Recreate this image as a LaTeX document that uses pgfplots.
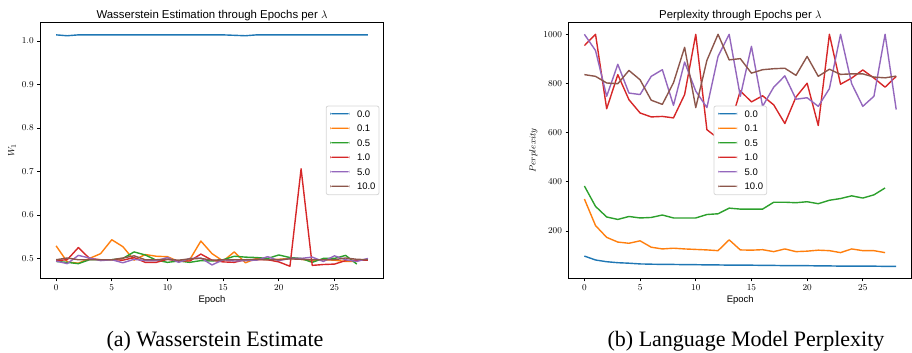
\documentclass[border=0pt]{standalone}
\usepackage[no-math]{fontspec}
\newfontfamily\sans{Liberation Sans}
\newfontfamily\capfont{Liberation Serif}
\usepackage{pgfplots}
\pgfplotsset{compat=1.18}
\definecolor{mplblue}{HTML}{1F77B4}
\definecolor{mplorange}{HTML}{FF7F0E}
\definecolor{mplgreen}{HTML}{2CA02C}
\definecolor{mplred}{HTML}{D62728}
\definecolor{mplpurple}{HTML}{9467BD}
\definecolor{mplbrown}{HTML}{8C564B}
\definecolor{legframe}{HTML}{D6D6D6}
\pgfplotsset{mpl/.style={
  scale only axis, width=343pt, height=255.3pt, anchor=south west,
  xmin=-1.4, xmax=29.4,
  xtick={0,5,10,15,20,25},
  tick align=outside, tick pos=left, major tick length=3.3pt,
  every tick/.style={black, line width=0.76pt},
  axis line style={line width=0.76pt},
  tick label style={font=\fontsize{9.5}{11}\selectfont},
  label style={font=\sans\fontsize{9.5}{11}\selectfont},
  title style={font=\sans\fontsize{11.4}{13}\selectfont, at={(axis description cs:0.5,1)}, anchor=base, yshift=-1.5pt},
  xlabel style={at={(axis description cs:0.5,0)}, anchor=base, yshift=-24pt},
  legend cell align=left,
  legend image code/.code={\path (0pt,0pt); \fill[##1, draw=none] (0pt,2.8pt) rectangle (19pt,4.2pt);},
  legend style={fill=white, draw=legframe, rounded corners=2pt, line width=0.76pt, font=\sans\fontsize{9.5}{11}\selectfont, inner xsep=3.5pt, inner ysep=4.2pt, row sep=6.8pt, nodes={inner sep=0pt, text height=7pt, text depth=0pt, anchor=base west}, column sep=7.6pt},
}}
\tikzset{p/.style={color=#1, line width=1.4pt, line join=round, mark=none}}
\begin{document}
\begin{tikzpicture}[x=1pt,y=1pt]
\useasboundingbox (0,0) rectangle (912,353);
\begin{axis}[mpl, at={(40.5pt,75pt)},
  ymin=0.455, ymax=1.042,
  ytick={0.5,0.6,0.7,0.8,0.9,1.0},
  yticklabel style={/pgf/number format/.cd, fixed, fixed zerofill, precision=1},
  title={Wasserstein Estimation through Epochs per $\lambda$},
  xlabel={Epoch}, ylabel={$W_1$},
  ylabel style={at={(axis description cs:-0.083,0.5)}, anchor=center},
  legend style={at={(0.988,0.5)}, anchor=east}]
\addplot[p=mplblue] table {
0 1.014
1 1.012
2 1.014
3 1.014
4 1.014
5 1.014
6 1.014
7 1.014
8 1.014
9 1.014
10 1.014
11 1.014
12 1.014
13 1.014
14 1.014
15 1.014
16 1.013
17 1.012
18 1.014
19 1.014
20 1.014
21 1.014
22 1.014
23 1.014
24 1.014
25 1.014
26 1.014
27 1.014
28 1.014
};
\addlegendentry{0.0}
\addplot[p=mplorange] table {
0 0.529
1 0.492
2 0.489
3 0.500
4 0.511
5 0.543
6 0.527
7 0.496
8 0.509
9 0.505
10 0.504
11 0.493
12 0.497
13 0.540
14 0.511
15 0.494
16 0.515
17 0.490
18 0.500
19 0.497
20 0.498
21 0.500
22 0.498
23 0.495
24 0.497
25 0.496
26 0.493
27 0.493
};
\addlegendentry{0.1}
\addplot[p=mplgreen] table {
0 0.493
1 0.491
2 0.488
3 0.497
4 0.497
5 0.497
6 0.500
7 0.515
8 0.508
9 0.496
10 0.491
11 0.494
12 0.491
13 0.495
14 0.494
15 0.497
16 0.505
17 0.503
18 0.502
19 0.500
20 0.508
21 0.502
22 0.500
23 0.491
24 0.500
25 0.500
26 0.507
27 0.487
};
\addlegendentry{0.5}
\addplot[p=mplred] table {
0 0.495
1 0.497
2 0.525
3 0.500
4 0.497
5 0.497
6 0.496
7 0.502
8 0.491
9 0.491
10 0.498
11 0.494
12 0.494
13 0.510
14 0.496
15 0.492
16 0.491
17 0.497
18 0.497
19 0.497
20 0.492
21 0.482
22 0.706
23 0.484
24 0.486
25 0.487
26 0.495
27 0.496
28 0.496
};
\addlegendentry{1.0}
\addplot[p=mplpurple] table {
0 0.494
1 0.488
2 0.507
3 0.501
4 0.495
5 0.497
6 0.490
7 0.498
8 0.495
9 0.495
10 0.502
11 0.491
12 0.500
13 0.501
14 0.485
15 0.497
16 0.494
17 0.495
18 0.496
19 0.504
20 0.495
21 0.500
22 0.500
23 0.503
24 0.493
25 0.506
26 0.497
27 0.493
28 0.500
};
\addlegendentry{5.0}
\addplot[p=mplbrown] table {
0 0.497
1 0.501
2 0.497
3 0.497
4 0.497
5 0.497
6 0.501
7 0.506
8 0.497
9 0.497
10 0.498
11 0.496
12 0.499
13 0.500
14 0.496
15 0.497
16 0.497
17 0.497
18 0.498
19 0.497
20 0.497
21 0.499
22 0.498
23 0.497
24 0.497
25 0.497
26 0.501
27 0.498
28 0.497
};
\addlegendentry{10.0}
\end{axis}
\begin{axis}[mpl, at={(568.8pt,75pt)},
  ymin=8.8, ymax=1047.2,
  ytick={200,400,600,800,1000},
  yticklabel style={/pgf/number format/1000 sep={}},
  title={Perplexity through Epochs per $\lambda$},
  xlabel={Epoch}, ylabel={$Perplexity$},
  ylabel style={at={(axis description cs:-0.103,0.5)}, anchor=center},
  legend style={at={(0.5,0.5)}, anchor=center}]
\addplot[p=mplblue] table {
0 98
1 82
2 75
3 71
4 69
5 66
6 65
7 64
8 64
9 63
10 63
11 62
12 62
13 61
14 61
15 61
16 60
17 60
18 59
19 59
20 59
21 58
22 58
23 57
24 57
25 57
26 57
27 56
28 56
};
\addlegendentry{0.0}
\addplot[p=mplorange] table {
0 330
1 222
2 174
3 155
4 150
5 160
6 134
7 127
8 130
9 127
10 125
11 123
12 120
13 164
14 123
15 122
16 124
17 116
18 127
19 116
20 118
21 122
22 120
23 112
24 127
25 120
26 120
27 112
};
\addlegendentry{0.1}
\addplot[p=mplgreen] table {
0 383
1 300
2 257
3 247
4 259
5 253
6 255
7 265
8 253
9 253
10 253
11 267
12 270
13 293
14 289
15 289
16 289
17 317
18 317
19 315
20 319
21 311
22 325
23 332
24 343
25 334
26 347
27 375
};
\addlegendentry{0.5}
\addplot[p=mplred] table {
0 954
1 1000
2 697
3 836
4 734
5 680
6 664
7 666
8 660
9 755
10 1000
11 612
12 577
13 617
14 770
15 725
16 750
17 713
18 637
19 745
20 801
21 629
22 1000
23 797
24 822
25 855
26 822
27 785
28 829
};
\addlegendentry{1.0}
\addplot[p=mplpurple] table {
0 1000
1 934
2 748
3 878
4 761
5 755
6 829
7 856
8 711
9 887
10 769
11 702
12 910
13 1000
14 748
15 951
16 707
17 785
18 831
19 736
20 742
21 707
22 779
23 1000
24 799
25 707
26 748
27 1000
28 694
};
\addlegendentry{5.0}
\addplot[p=mplbrown] table {
0 836
1 829
2 802
3 799
4 853
5 815
6 732
7 715
8 803
9 947
10 702
11 894
12 1000
13 896
14 901
15 842
16 856
17 860
18 862
19 833
20 910
21 829
22 858
23 837
24 839
25 839
26 826
27 823
28 830
};
\addlegendentry{10.0}
\end{axis}
\node[font=\capfont\fontsize{22}{26}\selectfont, anchor=base] at (215,6) {(a) Wasserstein Estimate};
\node[font=\capfont\fontsize{22}{26}\selectfont, anchor=base] at (746,6) {(b) Language Model Perplexity};
\end{tikzpicture}
\end{document}
